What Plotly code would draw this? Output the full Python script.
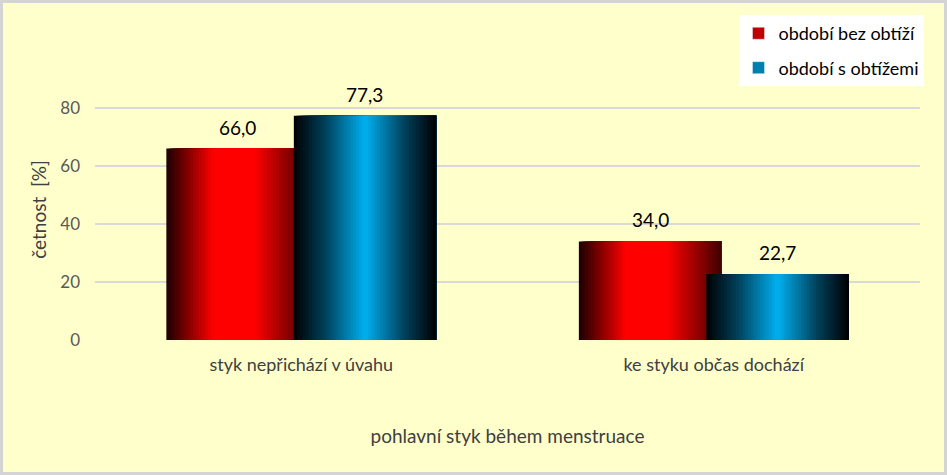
import plotly.graph_objects as go

categories = ["styk nepřichází v úvahu", "ke styku občas dochází"]
series_names = ["období bez obtíží", "období s obtížemi"]
values_bez = [66.0, 34.0]
values_s = [77.3, 22.7]
y_ticks = [0, 20, 40, 60, 80]

W, H = 947, 475
L, R, T, B = 95, 27, 79, 135
FONT = "Lato"

red_stops = [(0.0, (0x1a, 0x00, 0x00)), (0.33, (0xff, 0x00, 0x00)), (0.62, (0xff, 0x00, 0x00)), (1.0, (0x40, 0x00, 0x00))]
blue_stops = [(0.0, (0x00, 0x00, 0x00)), (0.22, (0x00, 0x40, 0x5a)), (0.5, (0x00, 0xb0, 0xf0)), (0.78, (0x00, 0x40, 0x5a)), (1.0, (0x00, 0x00, 0x00))]


def grad(stops, t):
    for (t0, c0), (t1, c1) in zip(stops[:-1], stops[1:]):
        if t0 <= t <= t1:
            f = (t - t0) / (t1 - t0) if t1 > t0 else 0
            c = [round(a + (b - a) * f) for a, b in zip(c0, c1)]
            return "rgb(%d,%d,%d)" % tuple(c)
    return "rgb(%d,%d,%d)" % stops[-1][1]


bar_w = 0.345
offsets = [-0.327, -0.018]
xpos = list(range(len(categories)))
N = 48

fig = go.Figure()
for vals, stops, off in [(values_bez, red_stops, offsets[0]), (values_s, blue_stops, offsets[1])]:
    sw = bar_w / N
    for i in range(N):
        # each strip runs to the bar's right edge; later strips cover earlier ones
        fig.add_trace(go.Bar(
            x=xpos, y=vals, width=bar_w - i * sw, offset=off + i * sw,
            marker=dict(color=grad(stops, (i + 0.5) / N), line=dict(width=0)),
            showlegend=False, hoverinfo="skip"))

# legend entries
fig.add_trace(go.Bar(x=[None], y=[None], name=series_names[0], marker_color="#c00000",
                     legendgroup="a"))
fig.add_trace(go.Bar(x=[None], y=[None], name=series_names[1], marker_color="#0080b0",
                     legendgroup="b"))

for vals, off in [(values_bez, offsets[0]), (values_s, offsets[1])]:
    for i, v in enumerate(vals):
        fig.add_annotation(x=i + off + bar_w / 2, y=v, text=f"{v:.1f}".replace(".", ","),
                           showarrow=False, yanchor="bottom", yshift=8,
                           font=dict(size=19, color="#000000", family=FONT))

pw = W - L - R
ph = H - T - B
fig.add_shape(type="rect", xref="paper", yref="paper",
              x0=-(L - 1.5) / pw, x1=1 + (R - 1.5) / pw,
              y0=-(B - 1.5) / ph, y1=1 + (T - 1.5) / ph,
              line=dict(color="#d4d4d4", width=3), layer="above")

fig.update_layout(
    width=W, height=H,
    margin=dict(l=L, r=R, t=T, b=B),
    barmode="overlay",
    paper_bgcolor="#ffffcc", plot_bgcolor="#ffffcc",
    font=dict(family=FONT, color="#595959"),
    xaxis=dict(range=[-0.5, 1.5], tickvals=xpos, ticktext=categories,
               showgrid=False, zeroline=False, showline=False, ticklabelstandoff=12,
               tickfont=dict(size=18, color="#404040"),
               title=dict(text="pohlavní styk během menstruace", standoff=55,
                          font=dict(size=19, color="#404040"))),
    yaxis=dict(range=[0, 90], tickvals=y_ticks, showgrid=True, gridcolor="#d9d9d9",
               gridwidth=1.5, zeroline=False, showline=False, ticklabelstandoff=14,
               tickfont=dict(size=17, color="#595959"),
               title=dict(text="četnost  [%]", standoff=8,
                          font=dict(size=19, color="#404040"))),
    legend=dict(x=0.78, y=1.245, xanchor="left", yanchor="top", bgcolor="#ffffff",
                font=dict(size=18, color="#000000"), traceorder="grouped",
                tracegroupgap=8, itemwidth=30),
)

fig.write_html("out.html", config={"displayModeBar": False},
               post_script="document.body.style.margin='0';")
